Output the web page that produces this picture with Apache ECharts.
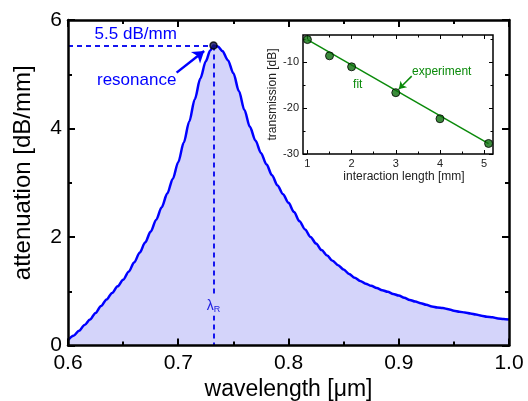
<!DOCTYPE html>
<html><head><meta charset="utf-8">
<script src="https://cdn.jsdelivr.net/npm/echarts@6/dist/echarts.min.js"></script>
<style>html,body{margin:0;padding:0;background:#fff}#c{width:528px;height:401px}</style>
</head><body><div id="c"></div>
<script>
// ---- main chart data ----
const wavelength = [0.600,0.605,0.610,0.615,0.620,0.625,0.630,0.635,0.640,0.645,0.650,0.655,0.660,0.665,0.670,0.675,0.680,0.685,0.690,0.695,0.700,0.705,0.710,0.715,0.720,0.725,0.729,0.732,0.736,0.740,0.745,0.750,0.755,0.760,0.765,0.770,0.775,0.780,0.785,0.790,0.795,0.800,0.805,0.810,0.815,0.820,0.825,0.830,0.835,0.840,0.845,0.850,0.855,0.860,0.865,0.870,0.875,0.880,0.885,0.890,0.895,0.900,0.905,0.910,0.915,0.920,0.925,0.930,0.935,0.940,0.945,0.950,0.955,0.960,0.965,0.970,0.975,0.980,0.985,0.990,0.995,1.000];
const attenuation = [0.10,0.18,0.27,0.38,0.48,0.60,0.73,0.85,0.97,1.09,1.21,1.36,1.53,1.71,1.90,2.10,2.32,2.55,2.80,3.07,3.38,3.74,4.13,4.54,4.92,5.24,5.44,5.53,5.51,5.43,5.26,5.02,4.69,4.34,4.03,3.78,3.55,3.34,3.14,2.95,2.79,2.63,2.46,2.29,2.14,2.00,1.88,1.76,1.66,1.56,1.48,1.40,1.32,1.25,1.19,1.14,1.10,1.06,1.02,0.99,0.95,0.92,0.88,0.84,0.81,0.78,0.75,0.72,0.70,0.69,0.67,0.64,0.62,0.61,0.59,0.57,0.55,0.53,0.52,0.50,0.49,0.48];
const peakWavelength = 0.732;
const peakAttenuation = 5.53;

// ---- inset data ----
const lengthMm = [1, 1.5, 2, 3, 4, 5.1];
const transmissionDb = [-5.0, -8.55, -10.95, -16.6, -22.3, -27.7];
const fitLength = [1, 5.1];
const fitTransmission = [-5.0, -27.75];
const insetXTicks = [1, 2, 3, 4, 5];
const insetXMinor = [1.5, 2.5, 3.5, 4.5];
const insetYTicks = [-30, -20, -10];
const insetYMinor = [-25, -15, -5];

const zip = (a, b) => a.map((v, i) => [v, b[i]]);
const BLUE = '#0000ff';
const GREEN = '#0a8a0a';
const FONT = 'Liberation Sans, Arial, sans-serif';

const chart = echarts.init(document.getElementById('c'), null, {renderer: 'canvas'});

function mainX(pos, labels, name) {
  return {
    gridIndex: 0, type: 'value', min: 0.6, max: 1.0, interval: 0.1, position: pos, z: 5,
    axisLine: {show: true, onZero: false, lineStyle: {color: '#000', width: 2.5}},
    axisTick: {show: true, inside: true, length: 7, lineStyle: {color: '#000', width: 2}},
    minorTick: {show: true, splitNumber: 2, length: 4, lineStyle: {color: '#000', width: 2}},
    axisLabel: {show: labels, fontSize: 21, color: '#000', margin: 7, fontFamily: FONT, formatter: v => v.toFixed(1)},
    splitLine: {show: false}, minorSplitLine: {show: false},
    name: name, nameLocation: 'middle', nameGap: 33,
    nameTextStyle: {fontSize: 23, color: '#000', fontFamily: FONT}
  };
}
function mainY(pos, labels, name) {
  return {
    gridIndex: 0, type: 'value', min: 0, max: 6, interval: 2, position: pos, z: 5,
    axisLine: {show: true, onZero: false, lineStyle: {color: '#000', width: 2.5}},
    axisTick: {show: true, inside: true, length: 7, lineStyle: {color: '#000', width: 2}},
    minorTick: {show: true, splitNumber: 2, length: 4, lineStyle: {color: '#000', width: 2}},
    axisLabel: {show: labels, fontSize: 21, color: '#000', margin: 6, fontFamily: FONT},
    splitLine: {show: false}, minorSplitLine: {show: false},
    name: name, nameLocation: 'middle', nameGap: 33,
    nameTextStyle: {fontSize: 24, color: '#000', fontFamily: FONT, padding: [0, 0, 0, 20]}
  };
}
function insetX(pos, ticks, len, labels, name) {
  return {
    gridIndex: 1, type: 'value', min: 0.9, max: 5.2, position: pos, z: 5,
    axisLine: {show: false},
    axisTick: {show: true, inside: true, length: len, customValues: ticks, lineStyle: {color: '#000', width: 1}},
    axisLabel: {show: labels, customValues: ticks, fontSize: 11, color: '#222', margin: 4, fontFamily: FONT},
    splitLine: {show: false},
    name: name, nameLocation: 'middle', nameGap: 17,
    nameTextStyle: {fontSize: 12, color: '#222', fontFamily: FONT, padding: [0, 0, 0, 12]}
  };
}
function insetY(pos, ticks, len, labels, name) {
  return {
    gridIndex: 1, type: 'value', min: -30, max: -4, position: pos, z: 5,
    axisLine: {show: false},
    axisTick: {show: true, inside: true, length: len, customValues: ticks, lineStyle: {color: '#000', width: 1}},
    axisLabel: {show: labels, customValues: ticks, fontSize: 11, color: '#222', margin: 4, fontFamily: FONT},
    splitLine: {show: false},
    name: name, nameLocation: 'middle', nameGap: 24,
    nameTextStyle: {fontSize: 12, color: '#222', fontFamily: FONT}
  };
}

const textPoint = (coord, text, color, size) => ({
  coord: coord, symbol: 'circle', symbolSize: 1, itemStyle: {color: 'rgba(0,0,0,0)'},
  label: {show: true, position: 'inside', formatter: text, color: color, fontSize: size, fontFamily: FONT}
});

const option = {
  animation: false,
  backgroundColor: '#fff',
  grid: [
    {left: 68, right: 19, top: 20, bottom: 55.5, containLabel: false, outerBoundsMode: 'none'},
    {left: 303, right: 35, top: 35, bottom: 247, containLabel: false, outerBoundsMode: 'none', show: true, backgroundColor: '#fff', borderColor: '#000', borderWidth: 1.5, z: 4}
  ],
  xAxis: [
    mainX('bottom', true, 'wavelength [μm]'),
    mainX('top', false, ''),
    insetX('bottom', insetXTicks, 4, true, 'interaction length [mm]'),
    insetX('bottom', insetXMinor, 2.5, false, ''),
    insetX('top', insetXTicks, 4, false, ''),
    insetX('top', insetXMinor, 2.5, false, '')
  ],
  yAxis: [
    mainY('left', true, 'attenuation [dB/mm]'),
    mainY('right', false, ''),
    insetY('left', insetYTicks, 4, true, 'transmission [dB]'),
    insetY('left', insetYMinor, 2.5, false, ''),
    insetY('right', insetYTicks, 4, false, ''),
    insetY('right', insetYMinor, 2.5, false, '')
  ],
  series: [
    {
      name: 'attenuation', type: 'line', xAxisIndex: 0, yAxisIndex: 0,
      data: zip(wavelength, attenuation), symbol: 'none', smooth: 0.3, smoothMonotone: 'x', z: 2,
      lineStyle: {color: BLUE, width: 2.5},
      areaStyle: {color: '#d4d4fa', opacity: 1},
      markLine: {
        silent: true, symbol: 'none', label: {show: false},
        lineStyle: {color: '#1515ee', width: 2, type: [5, 4]},
        data: [
          [{coord: [0.6, peakAttenuation]}, {coord: [peakWavelength, peakAttenuation]}],
          [{coord: [peakWavelength, peakAttenuation]}, {coord: [peakWavelength, 0]}],
          [{coord: [0.6985, 5.03], symbol: 'none'},
           {coord: [0.7235, 5.43], symbol: 'arrow', symbolSize: 11,
            lineStyle: {type: 'solid', color: BLUE, width: 2.5}}]
        ]
      },
      markPoint: {
        silent: true,
        data: [
          textPoint([0.6614, 5.73], '5.5 dB/mm', BLUE, 17),
          textPoint([0.6623, 4.89], 'resonance', BLUE, 17),
          {
            coord: [peakWavelength, 0.73], symbol: 'circle', symbolSize: 1, itemStyle: {color: 'rgba(0,0,0,0)'},
            label: {
              show: true, position: 'inside', formatter: '{l|λ}{r|R}', backgroundColor: '#d4d4fa', padding: [1, 1],
              rich: {
                l: {fontSize: 14, color: '#2020e0', fontFamily: FONT},
                r: {fontSize: 9, color: '#2020e0', fontFamily: FONT, padding: [8, 0, 0, 0]}
              }
            }
          }
        ]
      }
    },
    {
      name: 'peak', type: 'scatter', xAxisIndex: 0, yAxisIndex: 0, z: 6,
      data: [[peakWavelength, peakAttenuation]], symbolSize: 7,
      itemStyle: {color: '#101060', borderColor: '#000', borderWidth: 1.5}
    },
    {
      name: 'fit', type: 'line', xAxisIndex: 2, yAxisIndex: 2, z: 6,
      data: zip(fitLength, fitTransmission), symbol: 'none',
      lineStyle: {color: GREEN, width: 1.5},
      markLine: {
        silent: true, label: {show: false}, symbol: 'none',
        data: [
          [{coord: [3.36, -12.98], symbol: 'none'},
           {coord: [3.07, -15.8], symbol: 'arrow', symbolSize: 7,
            lineStyle: {type: 'solid', color: GREEN, width: 1.5}}]
        ]
      },
      markPoint: {
        silent: true,
        data: [
          textPoint([4.04, -12.04], 'experiment', GREEN, 12),
          textPoint([2.14, -14.93], 'fit', GREEN, 12)
        ]
      }
    },
    {
      name: 'experiment', type: 'scatter', xAxisIndex: 2, yAxisIndex: 2, z: 7,
      data: zip(lengthMm, transmissionDb), symbolSize: 8,
      itemStyle: {color: '#0b6e0b', borderColor: '#000', borderWidth: 1}
    }
  ]
};
chart.setOption(option);
</script>
</body></html>
